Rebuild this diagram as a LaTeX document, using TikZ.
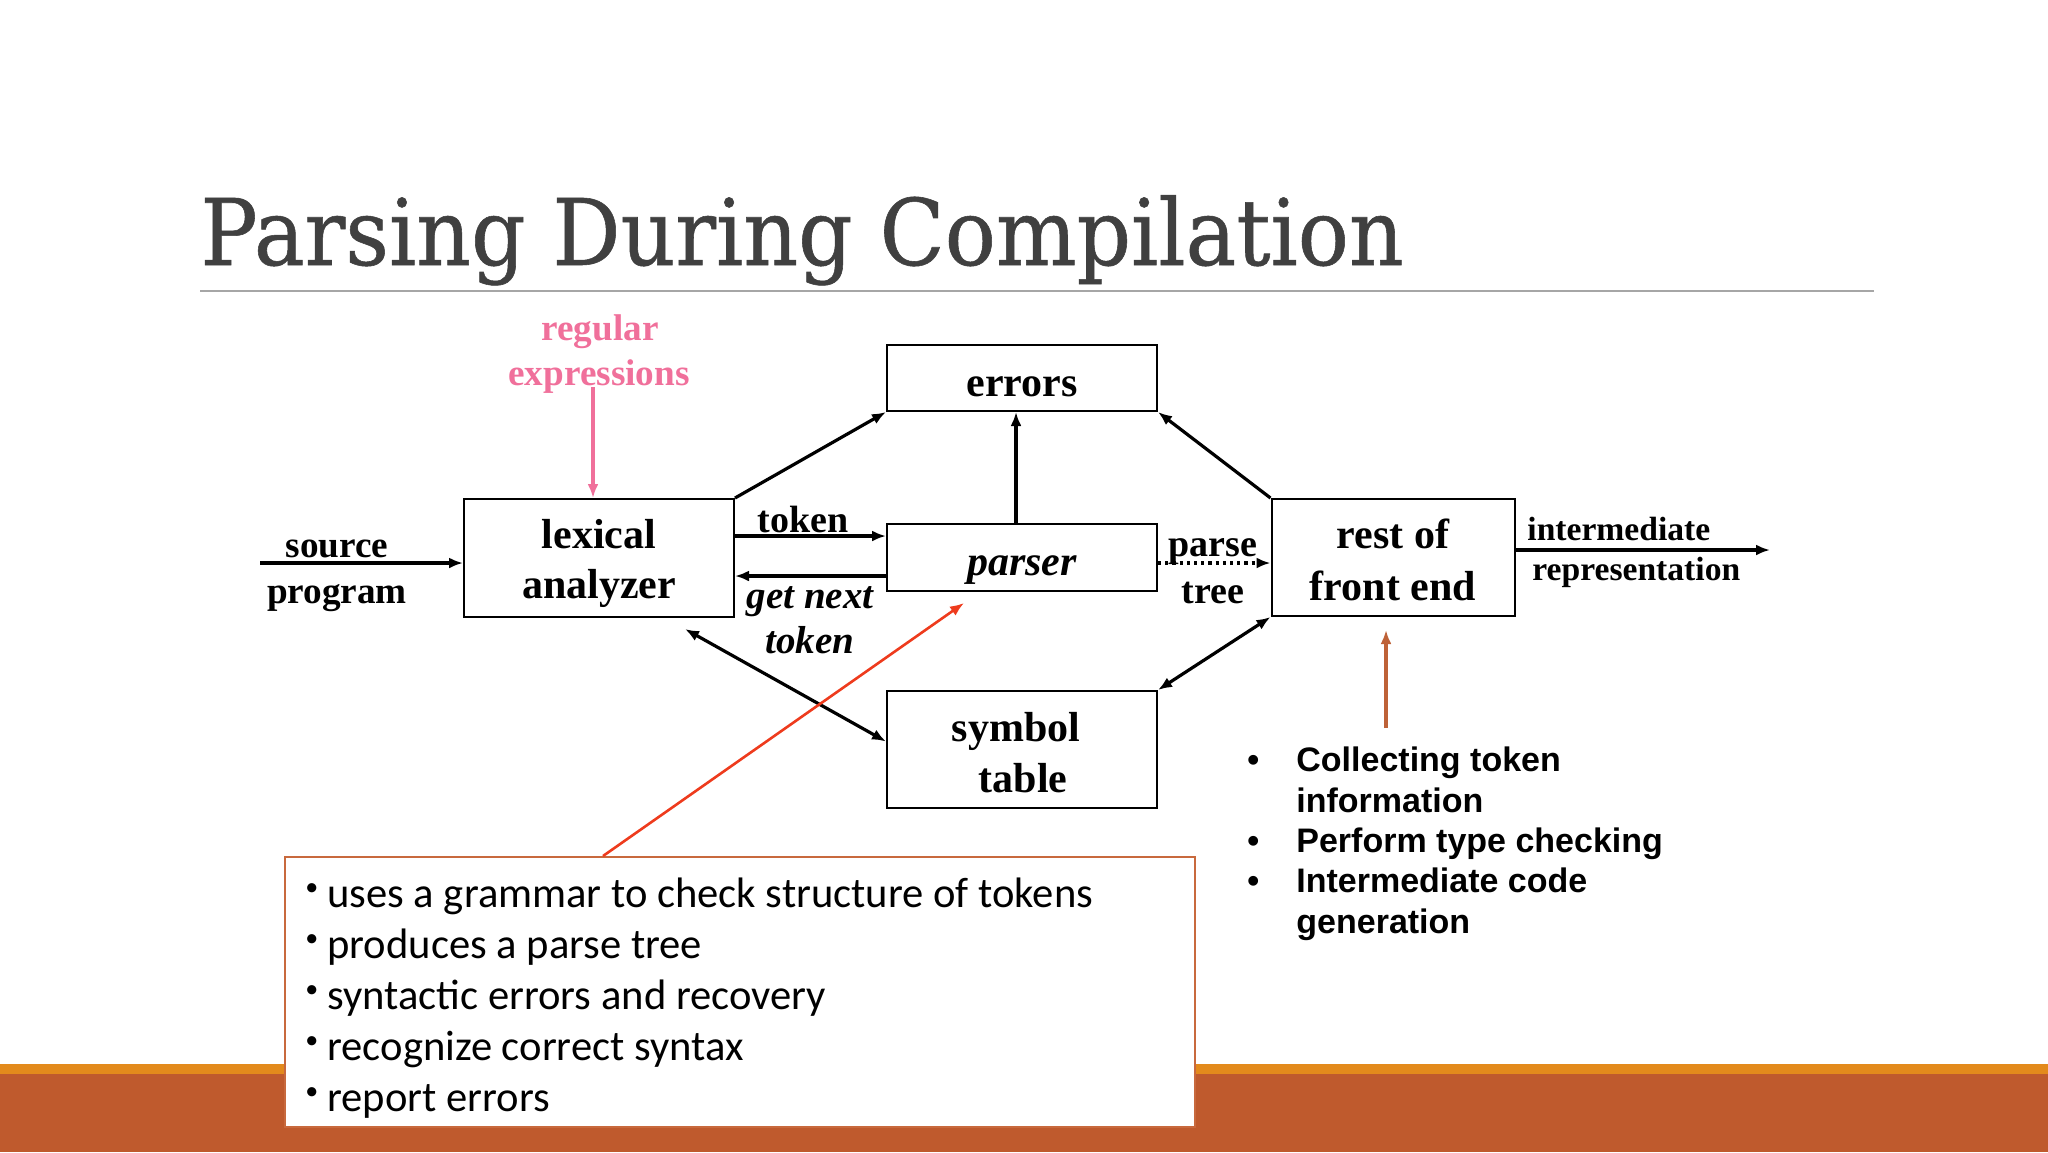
\documentclass[tikz,border=0pt]{standalone}
\usepackage{fontspec}
\setmainfont{Liberation Serif}
\newfontfamily\headfont[FakeStretch=0.925,FakeBold=0.6]{DejaVu Serif}
\newfontfamily\notefont{Carlito}
\newfontfamily\listfont{Liberation Sans}
\usetikzlibrary{arrows.meta}
\definecolor{headgray}{HTML}{404040}
\definecolor{rulegray}{HTML}{A6A6A6}
\definecolor{regpink}{HTML}{F0709B}
\definecolor{callred}{HTML}{EE3B1D}
\definecolor{notebrown}{HTML}{BE6238}
\definecolor{noteline}{HTML}{C8693D}
\definecolor{bandorange}{HTML}{E38A1C}
\definecolor{bandbrown}{HTML}{BF5A2D}
\newcommand\notebul{\makebox[11pt][l]{\raisebox{6pt}{\fontsize{13}{13}\selectfont\textbullet}}}
\newcommand\listbul{\makebox[24.5pt][l]{\textbullet}}

\begin{document}
\begin{tikzpicture}[x=.5pt,y=-.5pt,>=Latex,
  blk/.style={draw,line width=1pt,inner sep=0pt},
  lbl/.style={anchor=base,inner sep=0pt,font=\bfseries\fontsize{19}{19}\selectfont},
  boxtxt/.style={anchor=base,inner sep=0pt,font=\bfseries\fontsize{21}{21}\selectfont},
  arr/.style={line width=1.6pt,-{Latex[length=7pt,width=5.5pt]}},
  arrb/.style={line width=1.6pt,{Latex[length=7pt,width=5.5pt]}-{Latex[length=7pt,width=5.5pt]}},
  notetxt/.style={anchor=base west,inner sep=0pt,font=\notefont\fontsize{21.3}{21.3}\selectfont},
  listtxt/.style={anchor=base west,inner sep=0pt,font=\listfont\bfseries\fontsize{17}{17}\selectfont}]
 \useasboundingbox (0,0) rectangle (2048,1152);
 % footer bands
 \fill[bandorange] (0,1064) rectangle (2048,1074);
 \fill[bandbrown] (0,1074) rectangle (2048,1152);
 % heading
 \node[anchor=base west,inner sep=0pt,text=headgray,
   font=\headfont\fontsize{46}{46}\selectfont] (head) at (200,265) {Parsing During Compilation};
 \draw[rulegray,line width=1pt] (200,291) -- (1874,291);

 % blocks
 \node[blk,minimum width=135pt,minimum height=33pt] (errors) at (1022,378) {};
 \node[blk,minimum width=135pt,minimum height=59pt] (lex) at (599,558) {};
 \node[blk,minimum width=135pt,minimum height=33.5pt] (parser) at (1022,557.5) {};
 \node[blk,minimum width=121.5pt,minimum height=58.5pt] (rest) at (1393,557.5) {};
 \node[blk,minimum width=135pt,minimum height=58.5pt] (symtab) at (1022,749.5) {};
 \node[boxtxt] (errorsT) at (1022,396) {errors};
 \node[boxtxt] (lexA) at (599,548) {lexical};
 \node[boxtxt] (lexB) at (599,598) {analyzer};
 \node[boxtxt,font=\bfseries\itshape\fontsize{21}{21}\selectfont] (parserT) at (1022,575) {parser};
 \node[boxtxt] (restA) at (1393,548) {rest of};
 \node[boxtxt] (restB) at (1393,600) {front end};
 \node[boxtxt] (symA) at (1016,741) {symbol};
 \node[boxtxt] (symB) at (1023,792) {table};

 % input side
 \coordinate (src) at (260,563);
 \draw[arr] (src) -- (src -| lex.west);
 \node[lbl,font=\bfseries\fontsize{18.6}{18.6}\selectfont] (srcA) at (337,557) {source};
 \node[lbl,font=\bfseries\fontsize{18.6}{18.6}\selectfont] (srcB) at (337,603) {program};
 \node[lbl,text=regpink,font=\bfseries\fontsize{18.6}{18.6}\selectfont] (regA) at (600,340) {regular};
 \node[lbl,text=regpink,font=\bfseries\fontsize{18.6}{18.6}\selectfont] (regB) at (599,385) {expressions};
 \coordinate (regfoot) at (593,387);
 \draw[regpink,line width=1.6pt,-{Latex[length=7pt,width=5.5pt]}] (regfoot) -- (regfoot |- lex.north);

 % lexer <-> parser
 \draw[arr] (lex.east |- 0,536) -- (parser.west |- 0,536);
 \draw[arr] (parser.west |- 0,576) -- (lex.east |- 0,576);
 \node[lbl] (tok) at (803,532) {token};
 \node[lbl,font=\bfseries\itshape\fontsize{19.5}{19.5}\selectfont] (getA) at (810,608) {get next};
 \node[lbl,font=\bfseries\itshape\fontsize{19.5}{19.5}\selectfont] (getB) at (810,653) {token};

 % errors
 \draw[arr] (lex.north east) -- (errors.south west);
 \draw[arr] ([xshift=-3pt]parser.north) -- ([xshift=-3pt]errors.south);
 \draw[arr] (rest.north west) -- (errors.south east);

 % symbol table
 \draw[arrb] ([xshift=-25pt,yshift=-5.5pt]lex.south east) -- ([yshift=4pt]symtab.west);
 \draw[arrb] (symtab.north east) -- (rest.south west);

 % parse tree
 \draw[arr,dotted] (parser.east |- 0,563) -- (rest.west |- 0,563);
 \node[lbl] (ptA) at (1213,556) {parse};
 \node[lbl] (ptB) at (1213,603) {tree};

 % output
 \coordinate (irend) at (1770,550);
 \draw[arr] (rest.east |- irend) -- (irend);
 \node[lbl,anchor=base west,font=\bfseries\fontsize{16.8}{16.8}\selectfont] (irA) at (1527,540) {intermediate};
 \node[lbl,anchor=base west,font=\bfseries\fontsize{16.8}{16.8}\selectfont] (irB) at (1532,580) {representation};

 % front end notes
 \coordinate (fefoot) at (1386,728);
 \draw[notebrown,line width=1.6pt,-{Latex[length=7pt,width=5.5pt]}] (fefoot) -- (1386,630);
 \node[listtxt] (fe1) at (1247,771) {\listbul Collecting token};
 \node[listtxt] (fe2) at (1296,812) {information};
 \node[listtxt] (fe3) at (1247,852) {\listbul Perform type checking};
 \node[listtxt] (fe4) at (1247,892) {\listbul Intermediate code};
 \node[listtxt] (fe5) at (1296,933) {generation};

 % parser notes
 \node[draw=noteline,line width=1pt,fill=white,inner sep=0pt,
   minimum width=455pt,minimum height=135pt] (note) at (740,992) {};
 \coordinate (calltip) at (964,603);
 \draw[callred,line width=1.3pt,-{Latex[length=7pt,width=5.5pt]}] (note.north -| 603,0) -- (calltip);
 \foreach \txt [count=\i from 0] in {uses a grammar to check structure of tokens,
   produces a parse tree,syntactic errors and recovery,recognize correct syntax,report errors}
   \node[notetxt] (note\i) at (305,{907+51*\i}) {\notebul\txt};
\end{tikzpicture}
\end{document}
